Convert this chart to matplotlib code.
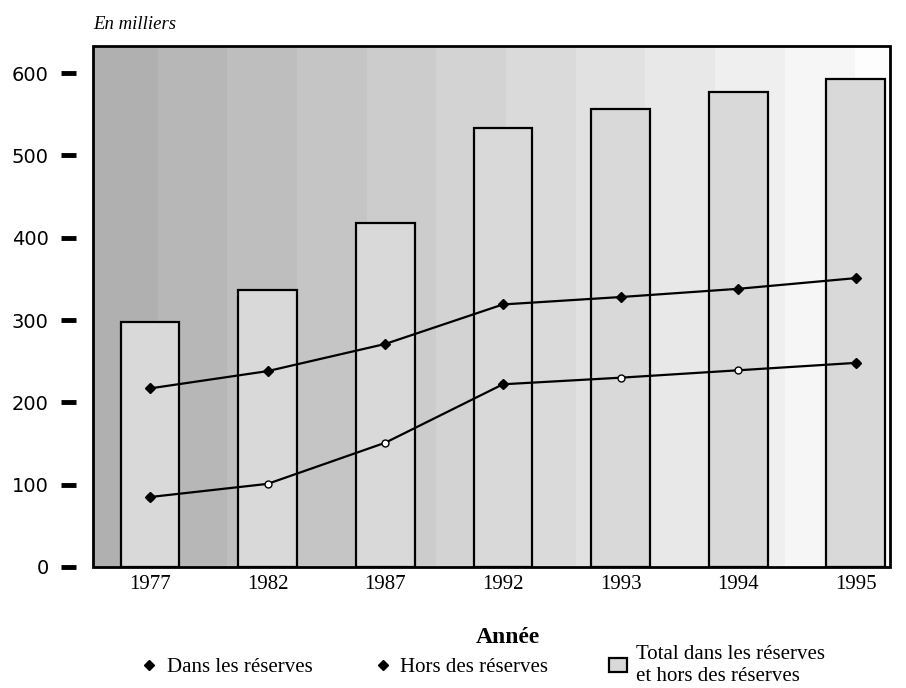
import numpy as np
import matplotlib
matplotlib.use("Agg")
import matplotlib.pyplot as plt
from matplotlib.patches import Rectangle
from matplotlib.lines import Line2D

# values in thousands
years = ["1977", "1982", "1987", "1992", "1993", "1994", "1995"]
total = [298, 336, 418, 534, 557, 577, 593]
dans_reserves = [217, 238, 271, 319, 328, 338, 351]
hors_reserves = [85, 101, 151, 222, 230, 239, 248]
y_ticks = [0, 100, 200, 300, 400, 500, 600]

plt.rcParams["font.family"] = ["Liberation Serif", "DejaVu Serif"]

fig = plt.figure(figsize=(9.06, 6.88), dpi=100)
ax = fig.add_axes([0.1026, 0.1759, 0.8797, 0.7572])

# ticks sit a little away from the frame, frame drawn as a box
# (set the spine position first: it resets the tick labels)
ax.spines["left"].set_position(("outward", 12))
for s in ax.spines.values():
    s.set_visible(False)
ax.add_patch(Rectangle((0, 0), 1, 1, transform=ax.transAxes, fill=False,
                       edgecolor="black", lw=2, zorder=5, clip_on=False))

# vertical grey bands, dark on the left to white on the right
bands = np.linspace(0.69, 0.99, 12).reshape(1, -1)
ax.imshow(bands, cmap="gray", vmin=0, vmax=1, aspect="auto",
          extent=[-0.0063, 1.0418, 0, 1], transform=ax.transAxes,
          interpolation="nearest", zorder=0)

x = np.arange(len(years))
ax.bar(x, total, width=0.5, color="#d9d9d9", edgecolor="black",
       linewidth=1.6, zorder=2)
ax.plot(x, dans_reserves, color="black", lw=1.6, marker="D", ms=5,
        mfc="black", mec="black", zorder=3)
ax.plot(x, hors_reserves, color="black", lw=1.6, marker="o", ms=5,
        mfc="white", mec="black", zorder=3)
ax.plot(x, hors_reserves, ls="none", marker="D", ms=5, color="black",
        markevery=[0, 3, 6], zorder=4)

ax.set_xlim(-0.485, 6.29)
ax.set_ylim(0, 633)
ax.tick_params(axis="x", length=0, pad=6, labelsize=15)
ax.tick_params(axis="y", length=11, width=3.5, pad=9, direction="out")
ax.set_xticks(x)
ax.set_xticklabels(years)
ax.set_yticks(y_ticks)
ax.set_yticklabels([str(v) for v in y_ticks], fontfamily="DejaVu Sans",
                   fontsize=14)

fig.text(0.1026, 0.958, "En milliers", fontsize=13.5, style="italic")
ax.set_xlabel("Année", fontsize=17, fontweight="bold")
ax.xaxis.set_label_coords(0.52, -0.115)

handles = [
    Line2D([], [], ls="none", marker="D", ms=5, color="black"),
    Line2D([], [], ls="none", marker="D", ms=5, color="black"),
    Rectangle((0, 0), 1, 1, facecolor="#d9d9d9", edgecolor="black", lw=1.6),
]
labels = ["Dans les réserves", "Hors des réserves",
          "Total dans les réserves\net hors des réserves"]
fig.legend(handles, labels, loc="upper left", bbox_to_anchor=(0.143, 0.078),
           ncol=3, frameon=False, fontsize=15, handlelength=0.9,
           handletextpad=0.4, columnspacing=2.9, borderpad=0,
           labelspacing=0.0)

fig.savefig("out.png", dpi=100)
